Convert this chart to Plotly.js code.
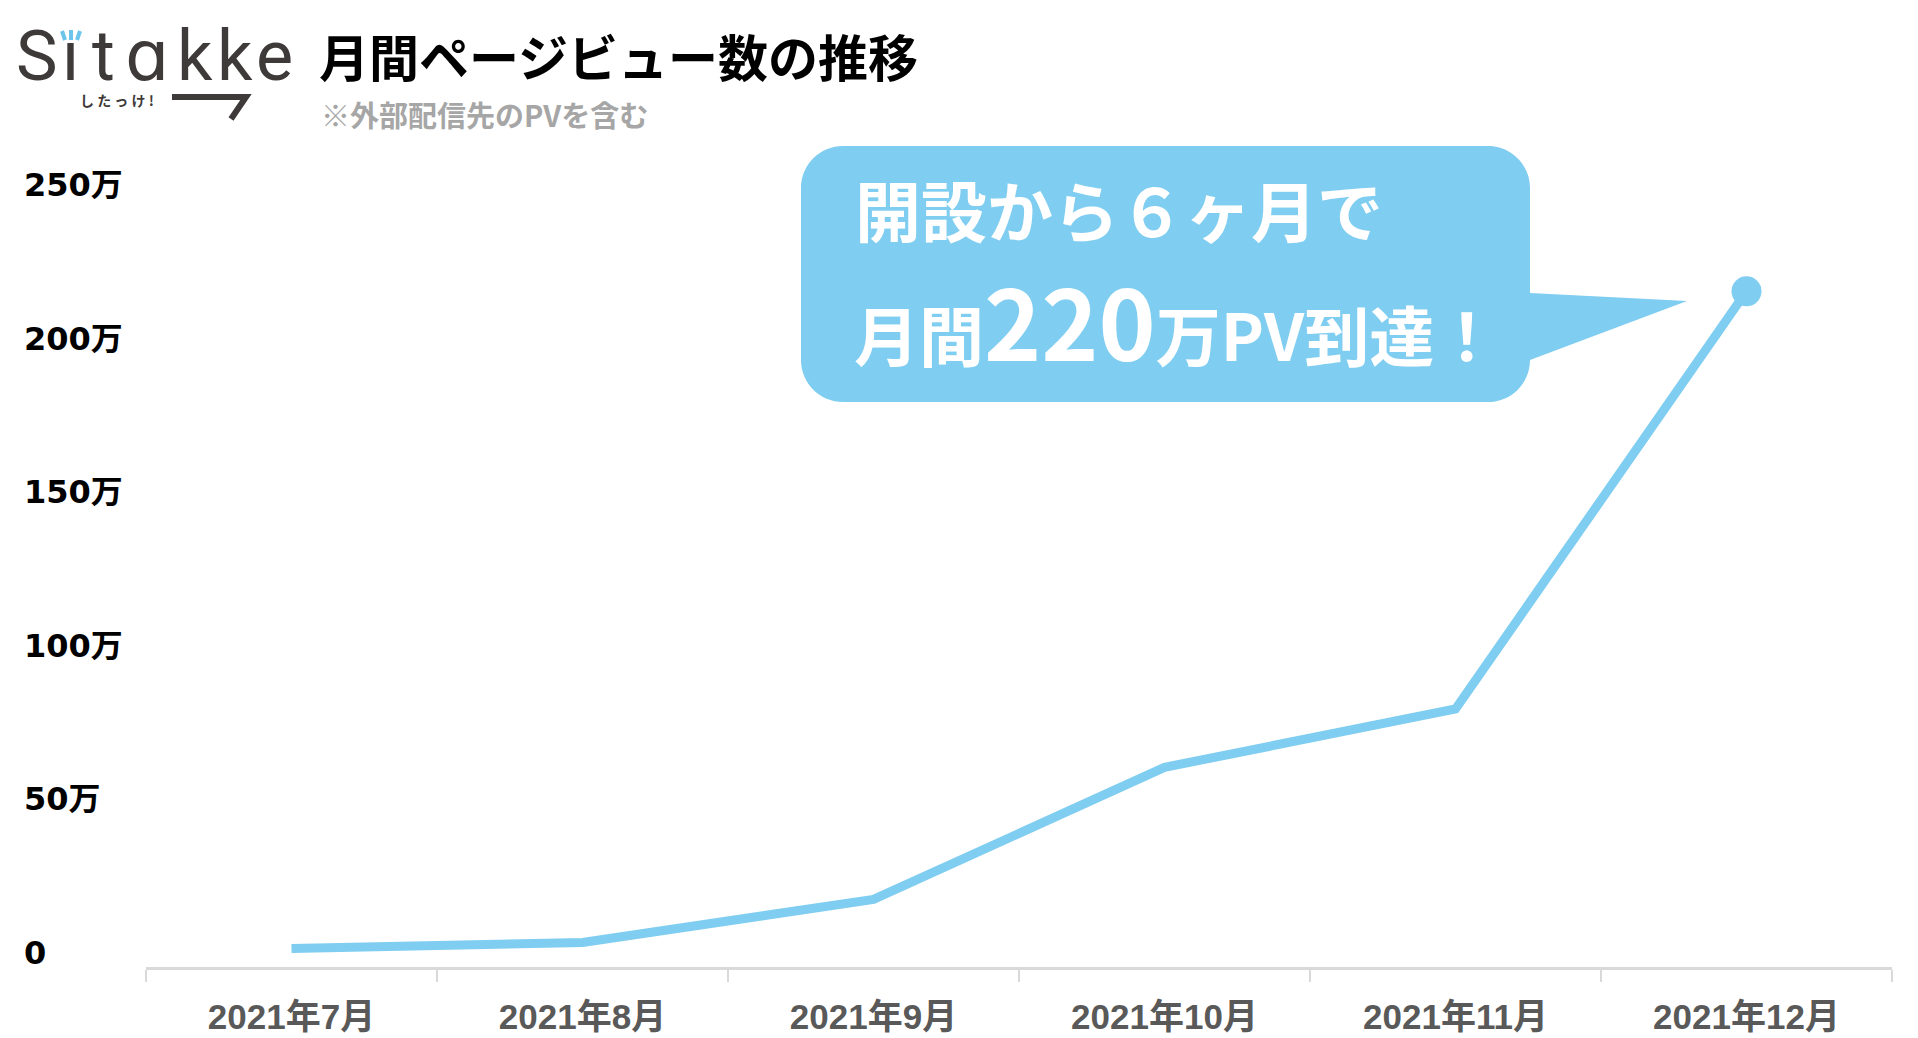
<!DOCTYPE html>
<html>
<head>
<meta charset="utf-8">
<script src="https://cdn.plot.ly/plotly-3.0.1.min.js"></script>
<style>
  html, body { margin: 0; padding: 0; background: #ffffff; }
  #chart { width: 1918px; height: 1038px; }
</style>
</head>
<body>
<div id="chart"></div>
<script>
// ---- data (values in 万 PV) ----
const months = ['2021年7月', '2021年8月', '2021年9月', '2021年10月', '2021年11月', '2021年12月'];
const pageViews = [6, 8, 22, 65, 84, 220];
const yTickVals = [0, 50, 100, 150, 200, 250];
const yTickText = ['0', '50万', '100万', '150万', '200万', '250万'];

const titleText = '月間ページビュー数の推移';
const subtitleText = '※外部配信先のPVを含む';
const calloutLine1 = '開設から６ヶ月で';
const calloutLine2 = ['月間', '220', '万PV到達！'];

// ---- layout geometry (pixels) ----
const W = 1918, H = 1038;
const L = 146, R = 1892, T = 150, B = 967;
const px = x => (x - L) / (R - L);
const py = y => (B - y) / (B - T);

const blue = '#7fcdf0';
const logoGrey = '#3e3a39';

// callout path (rounded box + tail)
function calloutPath() {
  const x0 = 801, x1 = 1530, y0 = 146, y1 = 402, r = 42, k = 0.5523 * r;
  const P = (x, y) => px(x).toFixed(5) + ',' + py(y).toFixed(5);
  return 'M' + P(x0 + r, y0) +
    ' L' + P(x1 - r, y0) +
    ' C' + P(x1 - r + k, y0) + ' ' + P(x1, y0 + r - k) + ' ' + P(x1, y0 + r) +
    ' L' + P(x1, 293) +
    ' L' + P(1687, 301) +
    ' L' + P(x1, 360) +
    ' L' + P(x1, y1 - r) +
    ' C' + P(x1, y1 - r + k) + ' ' + P(x1 - r + k, y1) + ' ' + P(x1 - r, y1) +
    ' L' + P(x0 + r, y1) +
    ' C' + P(x0 + r - k, y1) + ' ' + P(x0, y1 - r + k) + ' ' + P(x0, y1 - r) +
    ' L' + P(x0, y0 + r) +
    ' C' + P(x0, y0 + r - k) + ' ' + P(x0 + r - k, y0) + ' ' + P(x0 + r, y0) + ' Z';
}

function line(xa, ya, xb, yb, color, width) {
  return { type: 'line', xref: 'paper', yref: 'paper',
    x0: px(xa), y0: py(ya), x1: px(xb), y1: py(yb),
    line: { color: color, width: width } };
}

const shapes = [
  { type: 'path', xref: 'paper', yref: 'paper', path: calloutPath(),
    fillcolor: blue, line: { width: 0 }, layer: 'below' },
  // logo underline arrow
  { type: 'path', xref: 'paper', yref: 'paper',
    path: 'M' + px(172) + ',' + py(97) + ' L' + px(246) + ',' + py(97) + ' L' + px(231) + ',' + py(119),
    line: { color: logoGrey, width: 6 } },
  // blue sparkle over the i
  line(62, 31, 65, 40, '#6cc4ec', 4),
  line(71, 30, 71, 40, '#6cc4ec', 4),
  line(80, 31, 77, 40, '#6cc4ec', 4)
];

const annotations = [];

// y axis labels, left aligned, placed with the y scale
yTickVals.forEach((v, i) => {
  annotations.push({
    xref: 'paper', yref: 'y', x: px(22), y: v, yshift: 14,
    xanchor: 'left', yanchor: 'middle', showarrow: false,
    text: yTickText[i],
    font: { family: 'DejaVu Sans, Noto Sans CJK JP', size: 32, weight: 700, color: '#000000' }
  });
});

// subtitle
annotations.push({
  xref: 'paper', yref: 'paper', x: px(319), y: py(114), xanchor: 'left', yanchor: 'middle',
  showarrow: false, text: subtitleText,
  font: { family: 'Noto Sans CJK JP', size: 29, weight: 700, color: '#a6a6a6' }
});

// callout text
annotations.push({
  xref: 'paper', yref: 'paper', x: px(853), y: py(208), xanchor: 'left', yanchor: 'middle',
  showarrow: false, text: calloutLine1,
  font: { family: 'Noto Sans CJK JP', size: 66, weight: 700, color: '#ffffff' }
});
annotations.push({
  xref: 'paper', yref: 'paper', x: px(852), y: py(318), xanchor: 'left', yanchor: 'middle',
  showarrow: false,
  text: calloutLine2[0] + '<span style="font-size:97px">' + calloutLine2[1] + '</span>' + calloutLine2[2],
  font: { family: 'Noto Sans CJK JP', size: 65, weight: 700, color: '#ffffff' }
});

// logo letters
const logoLetters = ['S', 'ı', 't', 'ɑ', 'k', 'k', 'e'];
const logoX = [37, 70, 103, 147, 195, 235, 274];
logoLetters.forEach((c, i) => {
  annotations.push({
    xref: 'paper', yref: 'paper', x: px(logoX[i]), y: py(56), xanchor: 'center', yanchor: 'middle',
    height: 62, valign: 'middle',
    showarrow: false, text: c,
    font: { family: 'Roboto, DejaVu Sans', size: 70, weight: 400, color: logoGrey }
  });
});
annotations.push({
  xref: 'paper', yref: 'paper', x: px(117), y: py(100), xanchor: 'center', yanchor: 'middle',
  showarrow: false, text: 'し た っ け !',
  font: { family: 'Noto Sans CJK JP', size: 14, weight: 700, color: logoGrey }
});

const last = pageViews.length - 1;
const data = [
  {
    type: 'scatter', mode: 'lines', x: months, y: pageViews,
    line: { color: blue, width: 9 }, hoverinfo: 'skip', cliponaxis: false
  },
  {
    type: 'scatter', mode: 'markers', x: [months[last]], y: [pageViews[last]],
    marker: { color: blue, size: 30 }, hoverinfo: 'skip', cliponaxis: false
  }
];

const layout = {
  width: W, height: H,
  margin: { l: L, r: W - R, t: T, b: H - B, pad: 0 },
  paper_bgcolor: '#ffffff', plot_bgcolor: '#ffffff',
  showlegend: false,
  title: {
    text: titleText, xref: 'container', yref: 'container',
    x: 319 / W, xanchor: 'left', y: 1 - 59 / H, yanchor: 'middle',
    font: { family: 'Noto Sans CJK JP', size: 50, weight: 700, color: '#000000' }
  },
  xaxis: {
    type: 'category', range: [-0.5, months.length - 0.5],
    showline: true, linecolor: '#d9d9d9', linewidth: 3,
    ticks: 'outside', tickson: 'boundaries', ticklen: 12, tickcolor: '#d9d9d9', tickwidth: 1.5,
    ticklabelstandoff: 17,
    tickfont: { family: 'Liberation Sans, Noto Sans CJK JP', size: 35, weight: 700, color: '#595959' },
    showgrid: false, zeroline: false, fixedrange: true
  },
  yaxis: {
    range: [0, 266], showticklabels: false, showgrid: false, zeroline: false,
    showline: false, ticks: '', fixedrange: true
  },
  shapes: shapes,
  annotations: annotations
};

Plotly.newPlot('chart', data, layout, { staticPlot: true, displayModeBar: false });
</script>
</body>
</html>
